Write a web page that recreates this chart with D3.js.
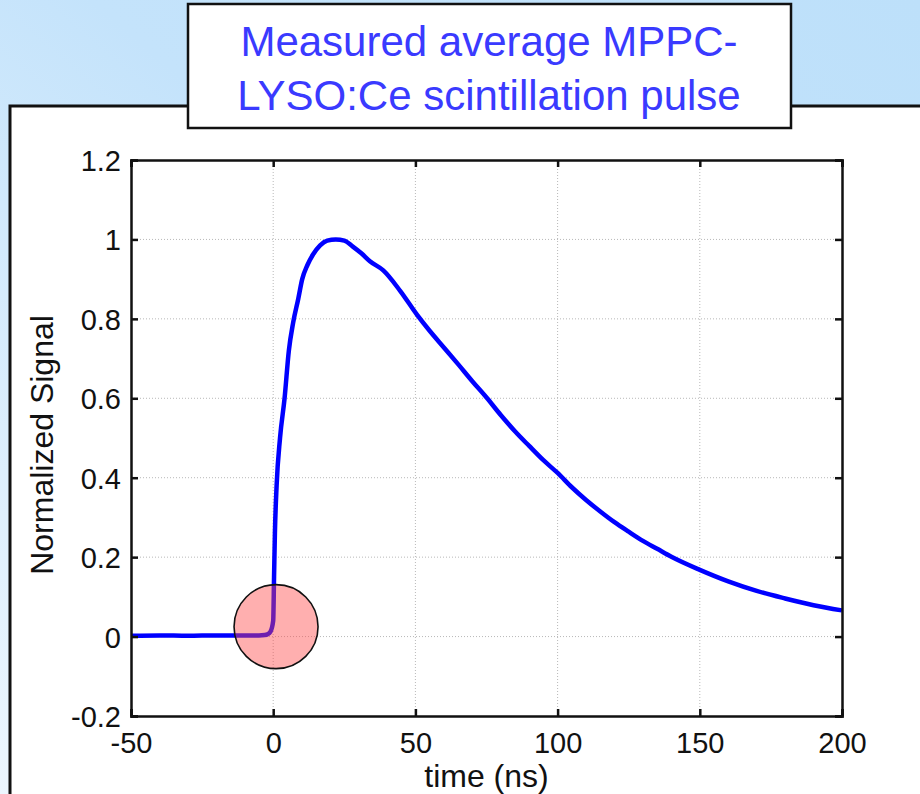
<!DOCTYPE html>
<html lang="en">
<head>
    <meta charset="UTF-8">
    <script src="https://d3js.org/d3.v7.min.js"></script>
    <title>Measured average MPPC-LYSO:Ce scintillation pulse</title>
    <style>
        body { margin: 0; overflow: hidden; }
        svg { display: block; font-family: Arial, "Liberation Sans", sans-serif; }
    </style>
</head>
<body>
    <div id="chart"></div>
    <script>
        const timeNs = [-50, -40, -30, -20, -10, -5, -3, -2, -1, 0, 0.3, 0.6, 1.2, 2.4, 4, 5.5, 7, 8.8, 10.2, 12, 14, 16.5, 19, 22, 25,
            28, 31, 34, 38.7, 44.7, 50.6, 55, 60, 65, 70, 75, 80, 85, 90, 95, 100, 105, 110, 115, 120, 125, 130, 135, 140,
            150, 160, 170, 180, 190, 200];
        const signal = [0.002, 0.003, 0.002, 0.003, 0.003, 0.003, 0.004, 0.006, 0.012, 0.04, 0.15, 0.26, 0.38, 0.5, 0.6, 0.72, 0.79, 0.85, 0.9, 0.935, 0.962, 0.985, 0.997, 1.0, 0.997,
            0.982, 0.965, 0.945, 0.922, 0.87, 0.81, 0.77, 0.728, 0.686, 0.643, 0.602, 0.558, 0.517, 0.48, 0.444, 0.412, 0.376, 0.344, 0.315, 0.288, 0.264, 0.241, 0.221, 0.201,
            0.168, 0.139, 0.115, 0.096, 0.079, 0.066];

        const xTicks = [-50, 0, 50, 100, 150, 200];
        const xTickLabels = ["-50", "0", "50", "100", "150", "200"];
        const yTicks = [-0.2, 0, 0.2, 0.4, 0.6, 0.8, 1, 1.2];
        const yTickLabels = ["-0.2", "0", "0.2", "0.4", "0.6", "0.8", "1", "1.2"];
        const titleLines = ["Measured average MPPC-", "LYSO:Ce scintillation pulse"];
        const xLabel = "time (ns)";
        const yLabel = "Normalized Signal";
        const highlight = {t: 1, v: 0.025}; // onset marker

        const W = 920, H = 794;
        const margin = {top: 160, right: 78, bottom: 78, left: 131};
        const width = W - margin.left - margin.right;
        const height = H - margin.top - margin.bottom;

        const svg = d3.select("#chart").append("svg")
            .attr("width", W)
            .attr("height", H);

        // slide background
        const defs = svg.append("defs");
        const grad = defs.append("linearGradient")
            .attr("id", "bg")
            .attr("x1", "100%").attr("y1", "0%")
            .attr("x2", "0%").attr("y2", "100%");
        grad.append("stop").attr("offset", "0%").attr("stop-color", "#bde0fa");
        grad.append("stop").attr("offset", "45%").attr("stop-color", "#c4e3fb");
        grad.append("stop").attr("offset", "100%").attr("stop-color", "#ecf6fe");
        svg.append("rect").attr("width", W).attr("height", H).attr("fill", "url(#bg)");

        // white panel
        svg.append("rect")
            .attr("x", 10).attr("y", 106)
            .attr("width", W + 20).attr("height", H)
            .attr("fill", "#fff")
            .attr("stroke", "#111")
            .attr("stroke-width", 3);

        const g = svg.append("g")
            .attr("transform", `translate(${margin.left},${margin.top})`);

        const x = d3.scaleLinear().domain([-50, 200]).range([0, width]);
        const y = d3.scaleLinear().domain([-0.2, 1.2]).range([height, 0]);

        // dotted grid
        g.append("g").selectAll("line")
            .data(xTicks.slice(1, -1))
            .join("line")
            .attr("x1", d => x(d)).attr("x2", d => x(d))
            .attr("y1", 0).attr("y2", height)
            .attr("stroke", "#b8b8b8").attr("stroke-width", 1)
            .attr("stroke-dasharray", "1,2");
        g.append("g").selectAll("line")
            .data(yTicks.slice(1, -1))
            .join("line")
            .attr("x1", 0).attr("x2", width)
            .attr("y1", d => y(d)).attr("y2", d => y(d))
            .attr("stroke", "#b8b8b8").attr("stroke-width", 1)
            .attr("stroke-dasharray", "1,2");

        // pulse
        const line = d3.line()
            .curve(d3.curveMonotoneX)
            .x((d, i) => x(timeNs[i]))
            .y(d => y(d));
        g.append("path")
            .datum(signal)
            .attr("fill", "none")
            .attr("stroke", "#0000ff")
            .attr("stroke-width", 4.5)
            .attr("stroke-linejoin", "round")
            .attr("d", line);

        // axes, MATLAB style: inward ticks on all sides
        const bottom = g.append("g")
            .attr("transform", `translate(0,${height})`)
            .call(d3.axisBottom(x).tickValues(xTicks).tickSize(-7).tickPadding(16).tickFormat((d, i) => xTickLabels[i]));
        const left = g.append("g")
            .call(d3.axisLeft(y).tickValues(yTicks).tickSize(-7).tickPadding(10).tickFormat((d, i) => yTickLabels[i]));
        g.append("g")
            .call(d3.axisTop(x).tickValues(xTicks).tickSize(-7).tickFormat(""));
        g.append("g")
            .attr("transform", `translate(${width},0)`)
            .call(d3.axisRight(y).tickValues(yTicks).tickSize(-7).tickFormat(""));

        g.selectAll(".domain").attr("stroke", "#111").attr("stroke-width", 2.5);
        g.selectAll(".tick line").attr("stroke", "#111").attr("stroke-width", 2.5);
        g.selectAll(".tick text")
            .attr("font-family", "Arial, 'Liberation Sans', sans-serif")
            .attr("font-size", 29)
            .attr("fill", "#111");
        bottom.selectAll(".tick text").attr("dy", "0.71em");
        left.selectAll(".tick text").attr("dy", "0.36em");

        // axis titles
        g.append("text")
            .attr("x", width / 2)
            .attr("y", height + 71)
            .attr("text-anchor", "middle")
            .attr("font-size", 32)
            .attr("fill", "#111")
            .text(xLabel);
        g.append("text")
            .attr("transform", `translate(${-78},${height / 2 + 7}) rotate(-90)`)
            .attr("text-anchor", "middle")
            .attr("font-size", 32)
            .attr("fill", "#111")
            .text(yLabel);

        // onset marker
        g.append("circle")
            .attr("cx", x(highlight.t))
            .attr("cy", y(highlight.v))
            .attr("r", 42)
            .attr("fill", "#ff4646")
            .attr("fill-opacity", 0.43)
            .attr("stroke", "#111")
            .attr("stroke-width", 1.6);

        // title box
        svg.append("rect")
            .attr("x", 188).attr("y", 4)
            .attr("width", 603).attr("height", 124)
            .attr("fill", "#fff")
            .attr("stroke", "#111")
            .attr("stroke-width", 2.5);
        svg.append("g").selectAll("text")
            .data(titleLines)
            .join("text")
            .attr("x", 489)
            .attr("y", (d, i) => 56 + i * 54)
            .attr("text-anchor", "middle")
            .attr("font-size", 42)
            .attr("fill", "#3a3aff")
            .text(d => d);
    </script>
</body>
</html>
